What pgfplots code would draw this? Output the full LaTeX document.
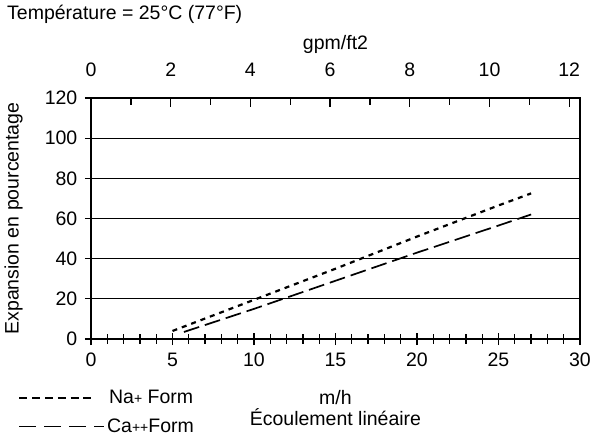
\documentclass[border=0pt]{standalone}
\usepackage{fontspec}
\setmainfont{Liberation Sans}
\usepackage{pgfplots}
\pgfplotsset{compat=1.18}
\pgfplotsset{
  nalegend/.style={legend image code/.code={\draw[##1, dash pattern=on 8pt off 4.8pt] (0pt,0pt) -- (72pt,0pt);}},
  calegend/.style={legend image code/.code={\draw[##1, line width=1.3pt, dash pattern=on 17pt off 8pt] (0pt,0pt) -- (85pt,0pt);}},
}
\newcommand{\pl}{{\fontsize{14}{14}\selectfont +}}
\begin{document}
\fontsize{19.5}{22}\selectfont
\begin{tikzpicture}[x=1pt,y=1pt]
\begin{axis}[
  at={(0,0)}, anchor=south west,
  width=489pt, height=241pt, scale only axis,
  xmin=0, xmax=30, ymin=0, ymax=120,
  xtick={0,5,...,30}, minor x tick num=4,
  ytick={0,20,...,120},
  xtick pos=bottom, ytick pos=left,
  tick align=center,
  major tick length=12pt, minor tick length=9pt,
  ymajorgrids, grid style={black, line width=1pt},
  axis line style={line width=1.8pt},
  every tick/.style={black, line width=1.3pt},
  /pgf/number format/assume math mode=true,
  ticklabel style={font=\fontsize{19.5}{22}\selectfont},
  xticklabel style={yshift=-1pt},
  yticklabel style={xshift=-1pt},
  xlabel={m/h\\[-1pt]Écoulement linéaire},
  xlabel style={align=center, yshift=-11pt},
  ylabel={Expansion en pourcentage},
  ylabel style={yshift=9pt},
  legend style={at={(-0.149,-0.203)}, anchor=north west, draw=none, fill=none,
    inner sep=0pt, row sep=8pt, font=\fontsize{19.5}{22}\selectfont},
  legend cell align=left,
]
\addplot[black, line width=2.2pt, dash pattern=on 5pt off 5pt, nalegend]
  coordinates {(5,4) (10,19.5) (15,35) (20,51) (25,66.5) (27,72.5)};
\addlegendentry{\hspace{2pt}Na\pl\ Form}
\addplot[black, line width=1.7pt, dash pattern=on 16pt off 6pt, calegend]
  coordinates {(5.7,3.5) (10,15) (15,29) (20,43) (25,56.5) (27,62)};
\addlegendentry{Ca\pl\pl Form}
\end{axis}
\begin{axis}[
  at={(0,0)}, anchor=south west,
  width=489pt, height=241pt, scale only axis,
  xmin=0, xmax=12.271, ymin=0, ymax=1,
  axis x line*=top, axis y line=none,
  xtick={0,2,...,12}, minor x tick num=1,
  tick align=inside, major tick length=9pt, minor tick length=7pt,
  every tick/.style={black, line width=1.3pt},
  axis line style={line width=1.8pt},
  /pgf/number format/assume math mode=true,
  ticklabel style={font=\fontsize{19.5}{22}\selectfont},
  xticklabel style={yshift=15pt},
  xlabel={gpm/ft2},
  xlabel style={yshift=-4pt},
]
\end{axis}
\node[anchor=west, inner sep=0pt] at (-84pt,325pt) {Température = 25°C (77°F)};
\pgfresetboundingbox
\path (-91pt,-100pt) rectangle (501pt,339pt);
\end{tikzpicture}
\end{document}
